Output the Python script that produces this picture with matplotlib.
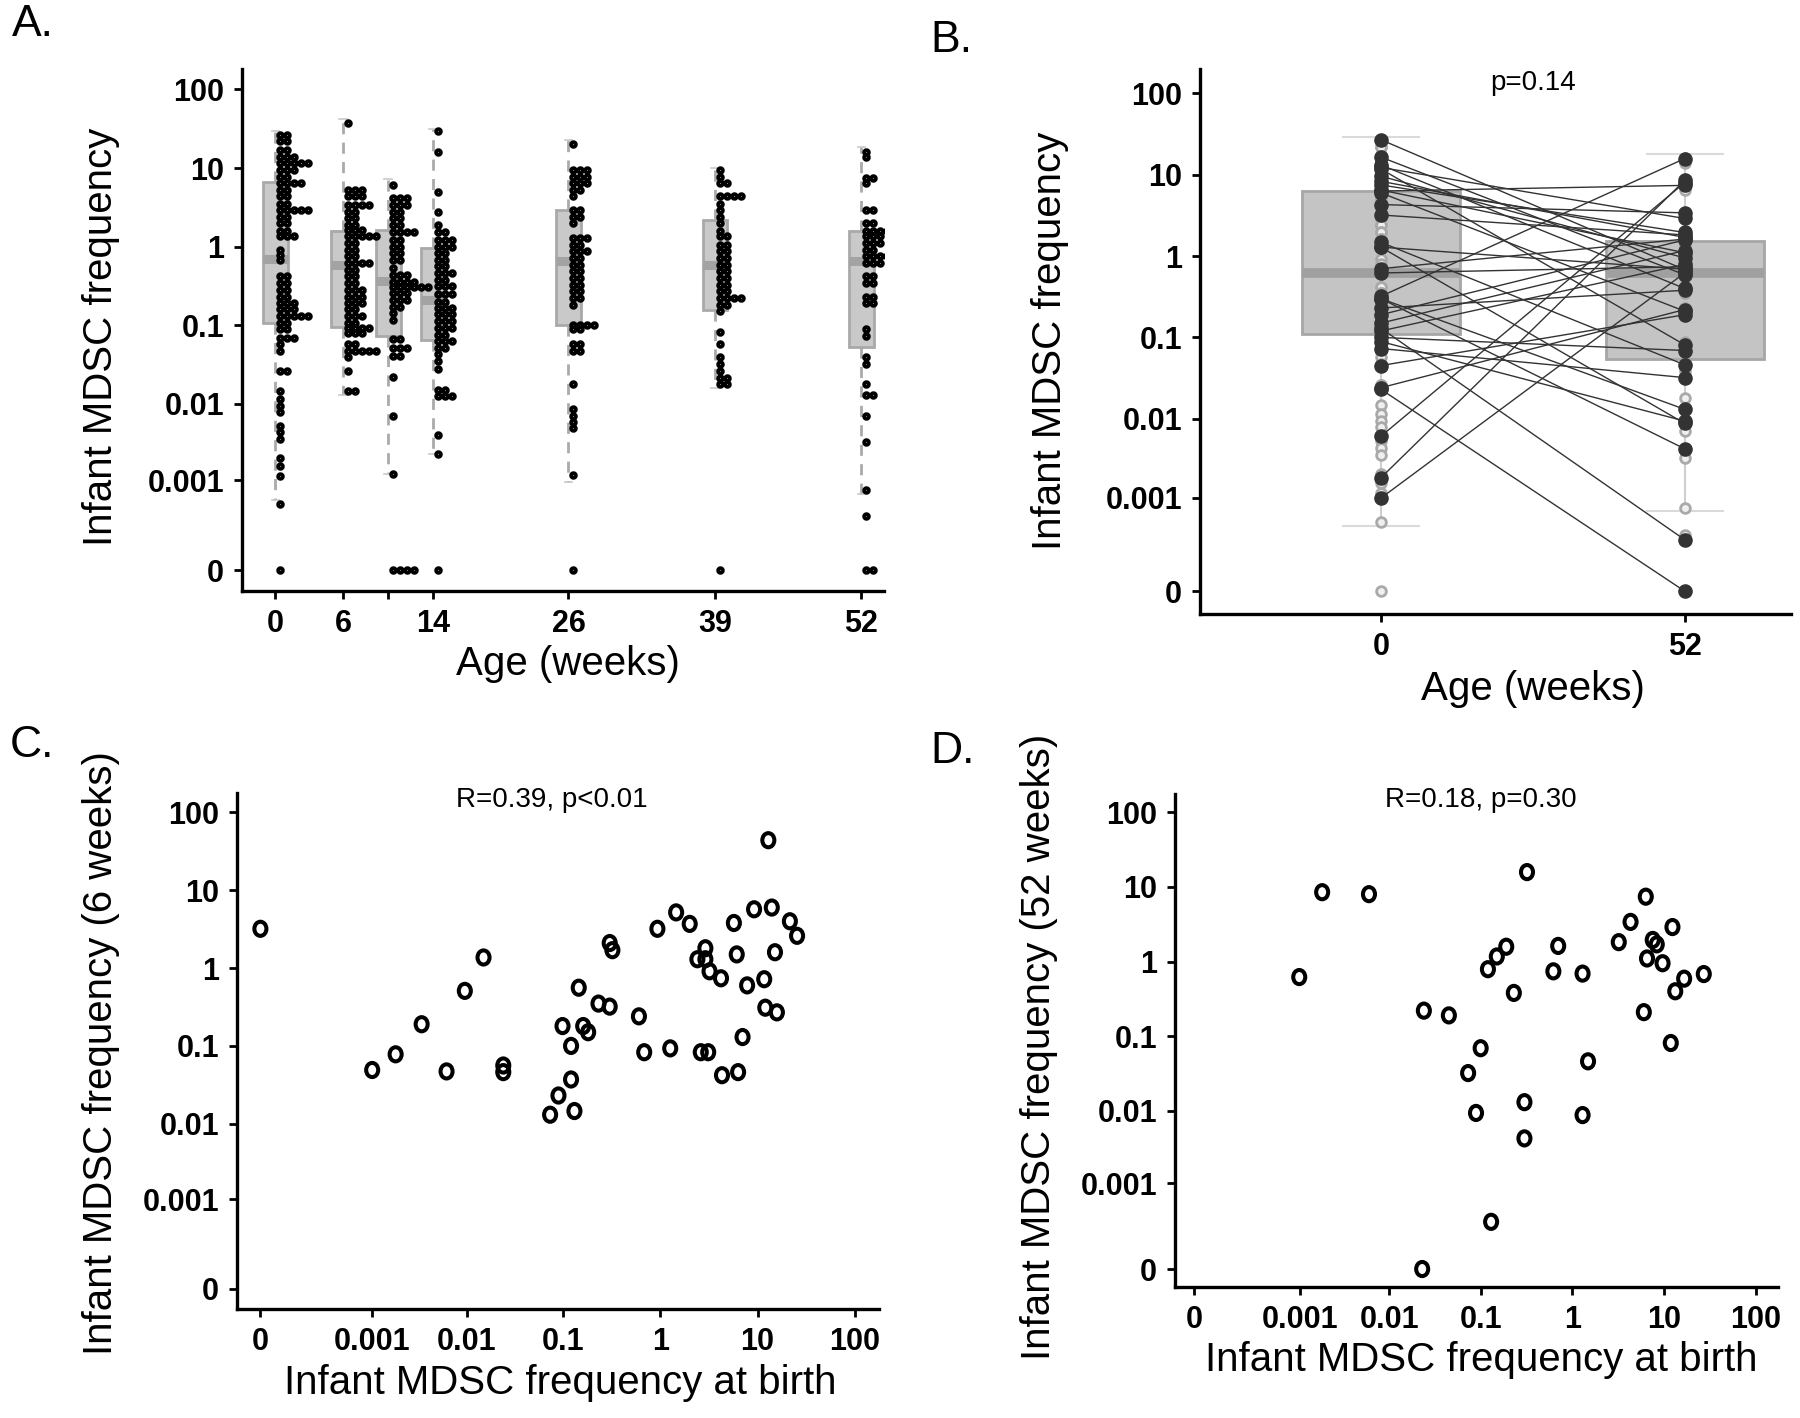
import numpy as np
import matplotlib
matplotlib.use("Agg")
import matplotlib.pyplot as plt
from matplotlib.path import Path
from matplotlib.transforms import Affine2D
from matplotlib.ticker import NullLocator

plt.rcParams['font.family'] = ['Liberation Sans', 'DejaVu Sans']

# ---------------- data ----------------
# panel A: stacked dot rows for each visit (row value, number of dots in the row)
weeks = [0, 6, 10, 14, 26, 39, 52]
week_labels = ['0', '6', '', '14', '26', '39', '52']

wk0_vals = [26, 22, 17, 14, 11.5, 9.5, 7.8, 6.5, 5.2, 4.4, 3.5, 2.95, 2.4, 2.0, 1.6,
            1.35, 0.91, 0.79, 0.68, 0.42, 0.35, 0.28, 0.23, 0.19, 0.16, 0.13, 0.107,
            0.089, 0.069, 0.058, 0.047, 0.026, 0.0145, 0.0115, 0.0093, 0.0078, 0.0052,
            0.0043, 0.0035, 0.002, 0.00155, 0.00115, 0.00046, 0]
wk0_n = [2, 2, 2, 3, 5, 3, 2, 4, 2, 2, 2, 5, 2, 2, 2, 3, 1, 1, 1, 2, 2, 2, 2, 3, 3, 5,
         2, 2, 3, 1, 1, 2, 1, 1, 1, 1, 1, 1, 1, 1, 1, 1, 1, 1]

wk6_vals = [37, 5.2, 4.4, 3.4, 2.8, 2.3, 1.9, 1.65, 1.35, 1.12, 0.91, 0.76, 0.62, 0.51,
            0.42, 0.35, 0.28, 0.23, 0.19, 0.16, 0.13, 0.107, 0.093, 0.079, 0.058, 0.047,
            0.039, 0.026, 0.0145]
wk6_n = [1, 3, 3, 4, 2, 2, 2, 3, 5, 2, 2, 2, 4, 2, 2, 2, 3, 3, 3, 2, 3, 2, 4, 3, 2, 5, 1, 1, 2]

wk10_vals = [6.1, 4.2, 3.4, 2.8, 2.3, 1.9, 1.55, 1.23, 1.0, 0.83, 0.68, 0.54, 0.44, 0.36,
             0.31, 0.26, 0.21, 0.17, 0.145, 0.117, 0.066, 0.051, 0.041, 0.022, 0.007,
             0.0012, 0]
wk10_n = [1, 3, 3, 2, 2, 2, 4, 2, 2, 2, 2, 1, 3, 4, 6, 3, 3, 2, 1, 1, 2, 3, 2, 1, 1, 1, 4]

wk14_vals = [30, 16, 4.9, 2.8, 1.9, 1.55, 1.23, 1.0, 0.83, 0.68, 0.56, 0.46, 0.38, 0.32,
             0.25, 0.2, 0.166, 0.138, 0.112, 0.093, 0.076, 0.063, 0.051, 0.043, 0.035,
             0.028, 0.015, 0.0126, 0.004, 0.0022, 0]
wk14_n = [1, 1, 1, 1, 1, 2, 3, 3, 2, 2, 2, 3, 2, 3, 3, 2, 3, 3, 3, 3, 2, 3, 2, 1, 1, 1,
          2, 3, 1, 1, 1]

wk26_vals = [20, 9.5, 7.8, 6.5, 5.2, 4.4, 2.95, 2.4, 2.0, 1.29, 1.05, 0.87, 0.72, 0.59,
             0.49, 0.40, 0.33, 0.27, 0.22, 0.18, 0.102, 0.089, 0.058, 0.047, 0.018,
             0.0085, 0.007, 0.0058, 0.0048, 0.00116, 0]
wk26_n = [1, 3, 3, 3, 2, 1, 2, 2, 1, 3, 2, 3, 2, 2, 2, 2, 2, 2, 2, 1, 4, 2, 2, 2, 1, 1,
          1, 1, 1, 1, 1]

wk39_vals = [9.5, 7.8, 6.5, 4.4, 3.5, 2.95, 2.4, 2.0, 1.6, 1.35, 1.05, 0.87, 0.72, 0.59,
             0.49, 0.40, 0.33, 0.27, 0.22, 0.18, 0.15, 0.083, 0.058, 0.039, 0.032, 0.026,
             0.021, 0.018, 0]
wk39_n = [1, 1, 2, 4, 1, 1, 1, 1, 1, 2, 2, 2, 2, 2, 2, 2, 2, 2, 4, 2, 1, 1, 1, 1, 1, 1, 2, 2, 1]

wk52_vals = [16, 14, 7.4, 6.5, 2.95, 2.0, 1.6, 1.35, 1.12, 0.91, 0.76, 0.62, 0.42, 0.35,
             0.23, 0.19, 0.089, 0.072, 0.039, 0.032, 0.018, 0.013, 0.007, 0.0032,
             0.00072, 0.0003, 0]
wk52_n = [1, 1, 2, 1, 2, 2, 4, 3, 3, 2, 4, 3, 2, 2, 2, 2, 1, 1, 1, 1, 1, 2, 1, 1, 1, 1, 2]

dot_rows = [(wk0_vals, wk0_n), (wk6_vals, wk6_n), (wk10_vals, wk10_n), (wk14_vals, wk14_n),
            (wk26_vals, wk26_n), (wk39_vals, wk39_n), (wk52_vals, wk52_n)]

# panel A box summaries
box_q1 = [0.108, 0.095, 0.072, 0.064, 0.10, 0.158, 0.053]
box_med = [0.69, 0.59, 0.37, 0.21, 0.65, 0.58, 0.66]
box_q3 = [6.6, 1.58, 1.65, 0.95, 2.9, 2.2, 1.6]
box_lo = [0.00053, 0.013, 0.0012, 0.0022, 0.00095, 0.016, 0.00064]
box_hi = [30, 42, 7.3, 31, 23, 10, 18.6]

# panel B box summaries (birth, 52 weeks)
b_q1 = [0.11, 0.054]
b_med = [0.62, 0.62]
b_q3 = [6.3, 1.55]
b_lo = [0.0004, 0.00065]
b_hi = [29, 18]

# panel D / B paired infants: birth vs 52 weeks
d_birth = [0.00098, 0.0018, 0.006, 0.024, 0.045, 0.023, 0.10, 0.073, 0.089, 0.13, 0.12,
           0.15, 0.19, 0.23, 0.32, 0.30, 0.30, 0.62, 0.70, 1.29, 1.48, 1.29, 3.2, 4.3,
           6.3, 7.5, 8.3, 6.5, 9.6, 6.0, 12.3, 16.5, 13.2, 27, 11.8]
d_wk52 = [0.62, 8.5, 8.0, 0.22, 0.19, 0, 0.069, 0.032, 0.0093, 0.00025, 0.79, 1.17, 1.58,
          0.38, 15.8, 0.013, 0.0042, 0.74, 1.62, 0.69, 0.046, 0.0087, 1.82, 3.4, 7.4, 1.95,
          1.7, 1.1, 0.95, 0.21, 2.9, 0.59, 0.40, 0.68, 0.081]

# panel C: birth vs 6 weeks
c_birth = [0, 0.001, 0.0018, 0.0034, 0.0062, 0.0096, 0.015, 0.024, 0.024, 0.073, 0.089,
           0.098, 0.12, 0.12, 0.13, 0.144, 0.16, 0.18, 0.23, 0.30, 0.30, 0.32, 0.60, 0.68,
           0.93, 1.26, 1.45, 2.0, 2.4, 2.9, 2.9, 3.2, 4.2, 2.6, 3.1, 4.3, 5.7, 6.1, 6.3,
           7.0, 7.8, 9.2, 12.9, 11.7, 12.0, 14.0, 15.1, 15.8, 21.5, 25.5]
c_wk6 = [3.2, 0.049, 0.078, 0.19, 0.047, 0.51, 1.37, 0.056, 0.046, 0.013, 0.023, 0.18,
         0.10, 0.037, 0.0145, 0.56, 0.18, 0.15, 0.35, 0.32, 2.1, 1.7, 0.24, 0.083, 3.2,
         0.093, 5.2, 3.7, 1.3, 1.8, 1.3, 0.91, 0.74, 0.083, 0.083, 0.042, 3.8, 1.5, 0.046,
         0.13, 0.60, 5.7, 44, 0.72, 0.31, 6.0, 1.6, 0.27, 4.0, 2.6]

tick_vals = [0, 0.001, 0.01, 0.1, 1, 10, 100]
tick_text = ['0', '0.001', '0.01', '0.1', '1', '10', '100']

# ---------------- helpers ----------------
OFFSET = 7.6e-5   # puts zero a bit more than a decade below 0.001


def fwd(v):
    return np.log10(np.maximum(np.asarray(v, float) + OFFSET, 1e-12))


def inv(t):
    return 10.0 ** np.asarray(t, float) - OFFSET


W, H = 1800, 1418
fig = plt.figure(figsize=(W / 100, H / 100), dpi=100)


def rect(l, t, r, b):
    return [l / W, 1 - b / H, (r - l) / W, (b - t) / H]


def put(x, y, s, **kw):
    fig.text(x / W, 1 - y / H, s, ha='center', va='center', **kw)


def clean(ax):
    ax.spines[['top', 'right']].set_visible(False)
    ax.spines[['left', 'bottom']].set_linewidth(2.4)
    ax.tick_params(length=6, width=2, labelsize=22, pad=7)


def log_y(ax, lo, hi):
    ax.set_yscale('function', functions=(fwd, inv))
    ax.set_ylim(float(inv(lo)), float(inv(hi)))
    ax.set_yticks(tick_vals)
    ax.set_yticklabels(tick_text, fontweight='bold')
    ax.yaxis.set_minor_locator(NullLocator())


def log_x(ax, lo, hi):
    ax.set_xscale('function', functions=(fwd, inv))
    ax.set_xlim(float(inv(lo)), float(inv(hi)))
    ax.set_xticks(tick_vals)
    ax.set_xticklabels(tick_text, fontweight='bold')
    ax.xaxis.set_minor_locator(NullLocator())


def stats(q1, med, q3, lo, hi):
    return [dict(q1=a, med=m, q3=c, whislo=l, whishi=h, fliers=[])
            for a, m, c, l, h in zip(q1, med, q3, lo, hi)]


ellipse = Path.unit_circle().transformed(Affine2D().scale(0.85, 1.0))

# ---------------- A ----------------
axA = fig.add_axes(rect(242, 69, 884, 591))
axA.bxp(stats(box_q1, box_med, box_q3, box_lo, box_hi), positions=weeks, widths=2.2,
        patch_artist=True, showfliers=False, manage_ticks=False, capwidths=0.7,
        boxprops=dict(facecolor='#c9c9c9', edgecolor='#a9a9a9', linewidth=2.0),
        medianprops=dict(color='#a3a3a3', linewidth=6.5, solid_capstyle='butt'),
        whiskerprops=dict(color='#aaaaaa', linewidth=2.0, linestyle=(0, (4, 3))),
        capprops=dict(color='#c8c8c8', linewidth=1.2))
for wk, (vals, counts) in zip(weeks, dot_rows):
    xs, ys = [], []
    for v, n in zip(vals, counts):
        for k in range(n):
            xs.append(wk + 0.42 + 0.62 * k)
            ys.append(v)
    axA.scatter(xs, ys, s=3.4 ** 2, facecolors='white', edgecolors='black',
                linewidths=2.7, zorder=4)
log_y(axA, -4.38, 2.26)
axA.set_xlim(-2.97, 54.0)
axA.set_xticks(weeks)
axA.set_xticklabels(week_labels, fontweight='bold')
clean(axA)

# ---------------- B ----------------
axB = fig.add_axes(rect(1200, 69, 1791, 614))
axB.bxp(stats(b_q1, b_med, b_q3, b_lo, b_hi), positions=[0, 1], widths=0.52,
        patch_artist=True, showfliers=False, manage_ticks=False, capwidths=0.25,
        boxprops=dict(facecolor='#c4c4c4', edgecolor='#a6a6a6', linewidth=2.0),
        medianprops=dict(color='#a0a0a0', linewidth=7, solid_capstyle='butt'),
        whiskerprops=dict(color='#cfcfcf', linewidth=1.5),
        capprops=dict(color='#dadada', linewidth=1.5))
all_birth = np.repeat(wk0_vals, wk0_n)
all_52 = np.repeat(wk52_vals, wk52_n)
axB.scatter(np.zeros(len(all_birth)), all_birth, s=49, facecolors='#efefef',
            edgecolors='#a9a9a9', linewidths=2.0, zorder=3)
axB.scatter(np.ones(len(all_52)), all_52, s=49, facecolors='#efefef',
            edgecolors='#a9a9a9', linewidths=2.0, zorder=3)
for b0, b52 in zip(d_birth, d_wk52):
    axB.plot([0, 1], [b0, b52], color='#333333', linewidth=1.0, zorder=4)
axB.scatter(np.zeros(len(d_birth)), d_birth, s=90, color='#333333', zorder=5)
axB.scatter(np.ones(len(d_wk52)), d_wk52, s=90, color='#333333', zorder=5)
log_y(axB, -4.4, 2.3)
axB.set_xlim(-0.595, 1.35)
axB.set_xticks([0, 1])
axB.set_xticklabels(['0', '52'], fontweight='bold')
clean(axB)

# ---------------- C ----------------
axC = fig.add_axes(rect(237, 793, 879, 1309))
axC.scatter(c_birth, c_wk6, marker=ellipse, s=10.2 ** 2, facecolors='none',
            edgecolors='black', linewidths=2.9)
log_x(axC, -4.36, 2.25)
log_y(axC, -4.38, 2.25)
clean(axC)

# ---------------- D ----------------
axD = fig.add_axes(rect(1175, 794, 1778, 1287))
axD.scatter(d_birth, d_wk52, marker=ellipse, s=10.2 ** 2, facecolors='none',
            edgecolors='black', linewidths=2.9)
log_x(axD, -4.33, 2.24)
log_y(axD, -4.36, 2.245)
clean(axD)

# ---------------- text ----------------
put(33, 25, 'A.', fontsize=32)
put(951, 40, 'B.', fontsize=32)
put(32, 746, 'C.', fontsize=32)
put(953, 752, 'D.', fontsize=32)

put(101, 337, 'Infant MDSC frequency', fontsize=29, rotation=90)
put(568, 664, 'Age (weeks)', fontsize=29)
put(1050, 341, 'Infant MDSC frequency', fontsize=29, rotation=90)
put(1533, 689, 'Age (weeks)', fontsize=29)
put(101, 1053, 'Infant MDSC frequency (6 weeks)', fontsize=29, rotation=90)
put(560, 1383, 'Infant MDSC frequency at birth', fontsize=29)
put(1039, 1047, 'Infant MDSC frequency (52 weeks)', fontsize=29, rotation=90)
put(1481, 1360, 'Infant MDSC frequency at birth', fontsize=29)

put(1533, 83, 'p=0.14', fontsize=20)
put(552, 800, 'R=0.39, p<0.01', fontsize=20)
put(1481, 800, 'R=0.18, p=0.30', fontsize=20)

fig.savefig('out.png', dpi=100)
